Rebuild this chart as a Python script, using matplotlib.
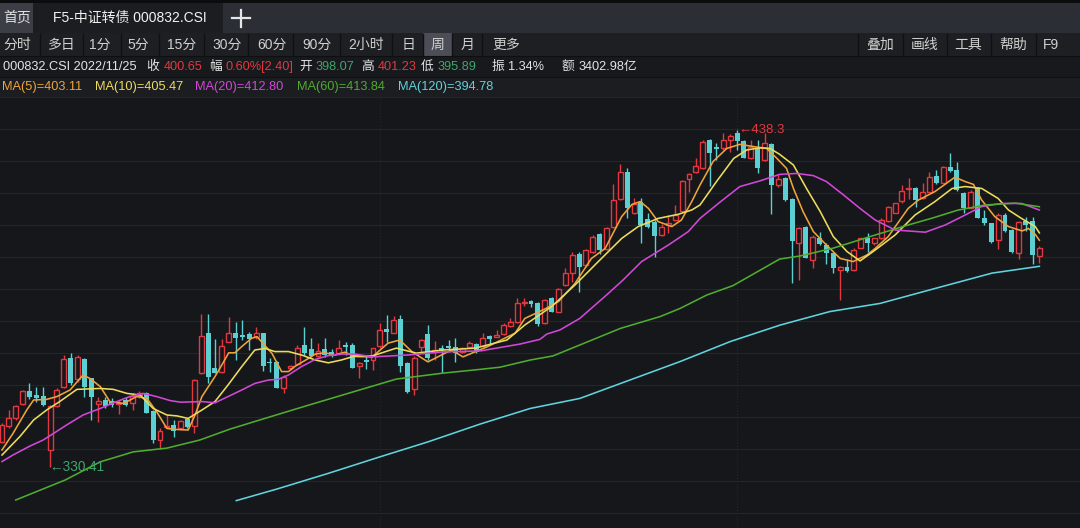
import numpy as np
import matplotlib
matplotlib.use("Agg")
import matplotlib.pyplot as plt
from matplotlib.patches import Rectangle

plt.rcParams['font.family'] = ['Liberation Sans', 'Noto Sans CJK SC', 'DejaVu Sans']

# weekly candles of 000832.CSI, oldest first
opens = [338.7, 343.7, 346.4, 350.7, 354.9, 353.6, 353.3, 336.0, 350.1, 356.3,
         365.3, 358.6, 365.0, 358.9, 350.7, 352.0, 351.8, 350.7, 352.0, 351.1,
         353.6, 354.1, 348.6, 339.2, 343.3, 344.0, 342.9, 345.8, 343.7, 360.5,
         373.3, 362.1, 361.1, 370.7, 373.5, 372.8, 373.0, 372.3, 373.3, 364.3,
         364.3, 356.0, 362.1, 363.4, 369.6, 368.3, 366.1, 368.2, 367.3, 366.9,
         369.6, 369.6, 362.9, 364.8, 364.8, 369.3, 374.7, 373.5, 377.8, 363.7,
         355.4, 369.1, 373.0, 367.5, 368.7, 369.3, 369.1, 367.5, 369.1, 369.9,
         369.3, 372.5, 372.3, 373.1, 375.7, 377.1, 383.1, 383.8, 382.9, 376.5,
         384.5, 380.3, 388.8, 392.8, 398.7, 395.2, 399.5, 405.0, 400.3, 407.5,
         416.3, 424.9, 411.7, 415.5, 409.9, 409.1, 404.8, 408.0, 409.6, 412.5,
         422.7, 424.9, 426.1, 435.2, 432.9, 432.5, 435.2, 437.3, 434.9, 429.3,
         432.5, 428.8, 433.8, 420.8, 423.1, 416.3, 402.4, 407.3, 396.8, 404.0,
         401.6, 398.9, 393.6, 394.7, 393.6, 400.7, 403.9, 402.1, 403.9, 409.3,
         412.0, 415.7, 419.5, 419.9, 416.7, 418.7, 423.8, 421.6, 426.7, 425.6,
         418.4, 413.5, 419.9, 410.3, 408.5, 403.2, 411.2, 406.4, 399.2, 409.3,
         409.3, 398.07]
highs = [344.5, 348.8, 350.4, 355.2, 357.3, 356.3, 356.3, 350.5, 355.7, 366.4,
         366.9, 366.4, 365.4, 359.2, 353.1, 352.9, 352.5, 352.0, 352.9, 354.1,
         355.0, 354.7, 348.8, 342.9, 347.2, 345.6, 345.6, 346.1, 358.6, 379.5,
         379.5, 371.4, 371.4, 378.5, 377.1, 377.6, 373.9, 375.5, 373.5, 365.3,
         364.5, 360.0, 363.2, 369.6, 375.3, 371.7, 370.1, 371.7, 368.2, 371.2,
         370.7, 370.1, 364.3, 366.4, 368.7, 376.7, 379.2, 378.9, 379.2, 364.3,
         366.1, 371.4, 376.0, 370.9, 369.6, 371.2, 371.7, 369.1, 371.0, 370.1,
         373.5, 372.8, 374.4, 376.5, 378.1, 384.5, 384.5, 384.0, 383.5, 384.3,
         385.1, 387.7, 394.3, 399.5, 399.5, 400.3, 404.8, 405.3, 407.5, 421.0,
         427.4, 426.4, 416.7, 416.5, 411.7, 409.6, 408.2, 411.2, 414.4, 422.4,
         424.5, 429.3, 435.2, 435.5, 434.1, 437.3, 437.0, 438.3, 435.1, 435.2,
         435.2, 437.3, 434.1, 424.0, 423.5, 416.5, 407.4, 407.8, 404.8, 405.6,
         402.1, 399.2, 395.0, 397.1, 400.5, 404.0, 405.3, 403.9, 410.1, 414.2,
         415.2, 420.8, 422.9, 420.3, 421.6, 424.9, 425.6, 427.0, 430.9, 428.3,
         418.7, 419.2, 420.3, 412.8, 408.8, 411.7, 411.7, 406.7, 409.3, 410.7,
         410.7, 401.23]
lows = [338.1, 342.9, 345.6, 350.4, 352.2, 351.5, 350.1, 330.41, 349.9, 356.0,
        356.8, 357.9, 353.1, 345.6, 345.1, 349.3, 349.9, 347.5, 350.1, 348.8,
        352.8, 347.7, 338.1, 336.2, 342.9, 340.3, 342.4, 342.9, 341.5, 360.3,
        357.5, 360.5, 360.7, 370.5, 364.8, 371.2, 368.0, 371.4, 361.4, 361.1,
        355.7, 354.3, 361.6, 363.2, 366.4, 365.9, 365.7, 365.9, 365.9, 366.4,
        366.4, 362.1, 359.2, 361.8, 361.6, 368.5, 370.7, 373.3, 361.1, 354.3,
        353.6, 367.5, 364.8, 364.8, 360.5, 367.5, 364.3, 366.9, 368.5, 366.9,
        369.1, 369.6, 372.1, 372.8, 375.5, 376.7, 382.1, 381.9, 375.8, 376.2,
        380.1, 380.1, 388.6, 389.9, 386.7, 394.7, 398.9, 398.6, 400.0, 407.1,
        416.0, 410.1, 411.4, 402.4, 407.1, 397.9, 404.6, 405.3, 409.3, 412.3,
        418.7, 424.5, 425.9, 420.6, 428.8, 432.0, 431.5, 432.0, 429.3, 429.1,
        424.5, 428.5, 411.4, 420.3, 415.7, 389.3, 390.4, 397.3, 394.3, 401.6,
        395.4, 392.8, 384.0, 393.1, 393.3, 400.5, 399.5, 401.6, 403.5, 409.1,
        411.7, 415.2, 416.3, 413.9, 416.3, 418.5, 421.0, 421.3, 425.1, 418.9,
        411.7, 413.3, 410.1, 408.0, 402.4, 400.3, 405.6, 399.2, 397.1, 406.1,
        395.4, 395.89]
closes = [344.0, 346.4, 350.1, 354.9, 353.1, 352.8, 350.4, 350.1, 355.2, 365.0,
          357.5, 365.9, 356.3, 353.1, 351.7, 350.1, 350.4, 351.2, 350.4, 353.3,
          354.1, 347.9, 339.2, 342.2, 343.6, 342.2, 345.4, 343.5, 358.4, 372.5,
          359.5, 360.7, 369.4, 373.3, 371.7, 372.3, 371.4, 373.3, 362.9, 363.7,
          355.9, 359.5, 363.0, 368.7, 366.9, 366.1, 367.8, 366.4, 366.4, 368.5,
          369.1, 362.4, 363.7, 364.3, 368.5, 374.4, 373.9, 377.6, 362.9, 354.7,
          365.3, 371.2, 365.5, 368.1, 368.0, 368.5, 366.9, 368.5, 370.1, 367.5,
          371.7, 371.4, 372.8, 376.0, 377.1, 383.1, 383.5, 382.6, 376.2, 384.0,
          380.3, 387.4, 392.8, 398.4, 394.7, 400.0, 404.3, 400.0, 407.1, 416.0,
          424.9, 413.5, 414.6, 408.0, 407.5, 404.6, 407.5, 408.5, 411.2, 422.1,
          424.2, 427.0, 434.5, 431.2, 432.2, 435.2, 436.6, 434.9, 429.5, 433.1,
          426.1, 434.1, 420.8, 422.7, 416.0, 402.9, 406.9, 397.5, 404.3, 401.8,
          398.9, 394.1, 394.7, 393.3, 400.0, 403.7, 402.4, 403.7, 409.6, 413.9,
          414.9, 418.9, 420.0, 416.0, 418.7, 423.3, 421.6, 426.7, 425.3, 419.2,
          413.5, 418.7, 410.3, 408.8, 402.7, 411.2, 406.1, 399.5, 409.1, 408.0,
          398.25, 400.65]

# moving averages, sampled along the curves (week index, value)
ma5_idx = [0, 1.6, 3.6, 4.6, 6.5, 8, 9.9, 11.8, 12.8, 14.3, 15.7, 17.7, 19.6, 21.1, 22.5,
           24, 25.2, 27.1, 28.1, 29.1, 31, 32, 33, 33.9, 34.9, 36.3, 37.1, 38, 39.3, 40.7,
           41.7, 42.6, 44.6, 45.6, 47, 48.5, 49.9, 51.4, 53.9, 56.2, 57.9, 59.7, 62, 65.4,
           67.1, 70.6, 74.7, 76.1, 79, 81, 83.4, 85.8, 87.8, 90.2, 91.7, 92.9, 94.1, 95.5,
           97.5, 98.9, 100.4, 101.6, 103.5, 105.5, 107.4, 109.4, 111.3, 112.8, 114.2, 115.2,
           116.6, 118.1, 120, 122, 123.9, 125.9, 127.1, 129, 131.9, 133.4, 135.8, 138.7,
           140.2, 141.4, 142.6, 144.5, 146.5, 148.5, 149.4, 150.4, 151]
ma5_val = [336.0, 341.3, 348.8, 352.0, 352.2, 353.1, 355.2, 360.0, 358.9, 356.3, 351.5,
           350.9, 353.1, 352.5, 348.3, 342.9, 342.6, 342.4, 347.2, 353.1, 359.5, 363.2,
           367.1, 367.1, 369.1, 371.7, 372.3, 370.1, 366.9, 361.1, 361.1, 362.7, 365.3,
           366.7, 367.1, 366.4, 367.3, 365.9, 365.8, 370.2, 371.2, 367.4, 364.2, 368.0,
           365.8, 369.0, 373.4, 378.1, 381.1, 383.5, 389.3, 397.3, 400.5, 410.7, 414.6,
           415.5, 413.3, 409.1, 407.5, 409.6, 415.5, 420.8, 428.3, 432.5, 433.8, 433.1,
           432.5, 429.3, 426.1, 419.7, 412.3, 405.9, 401.6, 397.3, 396.3, 398.4, 400.5,
           404.3, 413.3, 416.0, 418.7, 423.3, 421.9, 421.0, 416.0, 410.7, 407.5, 406.1,
           406.9, 405.0, 403.11]
ma10_idx = [0, 2.6, 4.6, 6.5, 8.4, 10.9, 14.3, 16.2, 18.2, 20.1, 22, 24, 25.5, 27.1, 29.1,
            31, 32.9, 34.9, 36.8, 38.3, 39.7, 41.7, 43.6, 45.6, 47.5, 49.4, 51.4, 53.9,
            57.4, 60.3, 64.2, 68.9, 73.5, 76.1, 80, 83.4, 86.8, 90.2, 92.6, 95.5, 98.4,
            100.4, 101.6, 104, 106.5, 108.4, 110.3, 111.8, 113.2, 115.2, 117.1, 119.1, 121,
            123, 124.9, 126.8, 130, 132.9, 135.8, 138.3, 140.2, 142.6, 145, 146.5, 148.4,
            150.4, 151]
ma10_val = [334.4, 340.3, 345.6, 348.8, 351.5, 355.4, 355.7, 355.4, 354.1, 353.6, 349.3,
            347.2, 346.9, 346.1, 348.8, 351.5, 356.8, 362.7, 368.0, 368.5, 367.5, 367.5,
            366.4, 364.8, 363.9, 364.8, 366.1, 366.1, 368.6, 367.0, 368.0, 368.6, 371.2,
            376.0, 381.9, 388.8, 396.3, 403.7, 407.5, 410.1, 411.4, 412.8, 414.4, 421.9,
            429.3, 432.0, 432.7, 432.5, 430.6, 427.2, 419.7, 412.3, 404.3, 399.5, 396.5,
            399.5, 404.8, 411.2, 415.5, 419.7, 420.3, 419.7, 416.5, 412.8, 410.1, 407.5,
            405.47]
ma20_idx = [0, 1.6, 4.1, 6, 7.5, 9.4, 11.8, 14.3, 16.7, 18.6, 20.6, 22.5, 24.5, 26, 29.1,
            31, 32.9, 34.9, 36.8, 38.8, 40.2, 41.7, 43.6, 45.6, 47.5, 49.4, 51.4, 53.9,
            59.1, 64.2, 69.6, 75.4, 78.3, 79.3, 81.2, 84.1, 88, 90.4, 93.1, 97, 99.9, 101.6,
            104.5, 107.4, 110.3, 113.2, 115.7, 118.1, 120, 122.5, 124.9, 127.1, 130, 134.4,
            137.3, 140.2, 142.6, 145.5, 148.4, 151]
ma20_val = [332.3, 334.4, 337.3, 339.2, 341.3, 344.0, 347.2, 349.3, 351.5, 353.1, 354.1,
            353.1, 351.8, 351.3, 351.5, 351.1, 353.1, 355.2, 357.3, 358.4, 358.6, 360.0,
            362.7, 365.0, 366.2, 366.7, 366.7, 365.8, 366.4, 367.4, 367.7, 369.9, 371.4,
            373.1, 374.4, 378.1, 385.6, 390.4, 396.3, 401.6, 405.9, 410.1, 415.3, 420.3,
            422.1, 424.2, 424.5, 423.8, 421.9, 417.6, 413.3, 409.6, 406.4, 405.7, 408.0,
            411.2, 413.9, 414.9, 414.9, 412.80]
ma60_idx = [2, 9.2, 14.3, 19.1, 24, 28.8, 33.2, 39, 44.7, 50.5, 57.4, 64.2, 69.6, 72.5,
            76.9, 80.2, 84.1, 90, 95.8, 98.7, 102.6, 106.4, 113.2, 116.2, 121, 127.1,
            131.9, 135.4, 139.2, 143.1, 147.5, 151]
ma60_val = [320.0, 326.4, 332.2, 335.4, 336.6, 339.2, 342.7, 346.6, 350.4, 354.2, 358.7,
            360.6, 361.8, 362.5, 364.8, 366.1, 369.6, 374.9, 378.7, 381.3, 385.6, 388.6,
            397.1, 398.1, 400.6, 404.8, 408.0, 410.2, 412.8, 414.4, 415.0, 413.84]
ma120_idx = [34.1, 40, 47.6, 55, 62, 69.6, 76.9, 84.1, 91.4, 98.7, 106, 113.3, 120.5,
             127.8, 136, 144.1, 151]
ma120_val = [319.8, 323.5, 328.6, 333.8, 338.6, 344.3, 349.3, 352.5, 358.4, 364.3, 370.7,
             376.0, 380.3, 382.9, 387.8, 392.6, 394.78]

code = "000832.CSI"
date = "2022/11/25"
amount = "3402.98亿"

BG = '#15171b'
UP = '#e3383f'
DOWN = '#5ccfd2'
GREEN_TXT = '#3fa56a'
TXT = '#e4e4e4'
MA_COLORS = ['#eea43a', '#ecdc5c', '#d247d8', '#4fac2f', '#5fd3de']

W, H = 1080, 528
fig = plt.figure(figsize=(W / 100, H / 100), dpi=100)
fig.patch.set_facecolor(BG)

# ---- toolbar / header, drawn in pixel coordinates ----
hdr = fig.add_axes([0, 0, 1, 1])
hdr.set_xlim(0, W)
hdr.set_ylim(H, 0)
hdr.axis('off')


def box(x0, y0, x1, y1, c):
    hdr.add_patch(Rectangle((x0, y0), x1 - x0, y1 - y0, facecolor=c, lw=0))


box(0, 0, W, 3, '#0b0c0e')
box(0, 3, W, 33, '#2b2e34')
box(0, 3, 33, 33, '#3b3e45')
box(33, 3, 223, 33, '#1b1d21')
box(0, 33, W, 56, '#1d1f23')
box(423, 33, 452, 56, '#4b4e56')
box(0, 56, W, 77, '#18191d')
box(0, 77, W, 97, '#1b1d21')
hdr.plot([0, W], [56, 56], color='#0e0f11', lw=0.8)
hdr.plot([0, W], [77, 77], color='#101114', lw=0.8)

hdr.text(3, 18, "首页", color=TXT, fontsize=10, va='center')
hdr.text(53, 18, "F5-中证转债 " + code, color='#f2f2f2', fontsize=10, va='center')
hdr.plot([232, 250], [18, 18], color='#e6e6e6', lw=1.6)
hdr.plot([241, 241], [9.5, 26.5], color='#e6e6e6', lw=1.6)

periods = ["分时", "多日", "1分", "5分", "15分", "30分", "60分", "90分", "2小时", "日", "周", "月", "更多"]
period_x = [17, 62, 100, 138, 182, 227, 272, 317, 366, 408, 437, 468, 506]
for lab, px in zip(periods, period_x):
    hdr.text(px, 45, lab, color='#d0d0d0', fontsize=10, ha='center', va='center')
for sx in [40, 83, 121, 159, 204, 248, 293, 340, 392, 423, 452, 482, 858, 903, 947, 991, 1036]:
    hdr.plot([sx, sx], [34, 55], color='#0f1012', lw=1.0)
tools = ["叠加", "画线", "工具", "帮助", "F9"]
tool_x = [880, 925, 968, 1013, 1051]
for lab, px in zip(tools, tool_x):
    hdr.text(px, 45, lab, color='#d0d0d0', fontsize=10, ha='center', va='center')

# quote line for the last week
last_c, prev_c = closes[-1], closes[-2]
chg = last_c - prev_c
quote = [
    (3, f"{code} {date}", TXT),
    (146, "收", TXT), (164, f"{last_c:.2f}", UP),
    (209, "幅", TXT), (225, f"{chg / prev_c * 100:.2f}%[{chg:.2f}]", UP),
    (299, "开", TXT), (316, f"{opens[-1]:.2f}", GREEN_TXT),
    (361, "高", TXT), (378, f"{highs[-1]:.2f}", UP),
    (421, "低", TXT), (438, f"{lows[-1]:.2f}", GREEN_TXT),
    (492, "振", TXT), (508, f"{(highs[-1] - lows[-1]) / prev_c * 100:.2f}%", TXT),
    (562, "额", TXT), (579, amount, TXT),
]
for qx, s, c in quote:
    hdr.text(qx, 67, s, color=c, fontsize=9.2, va='center')

ma_names = ["MA(5)", "MA(10)", "MA(20)", "MA(60)", "MA(120)"]
ma_last = [ma5_val[-1], ma10_val[-1], ma20_val[-1], ma60_val[-1], ma120_val[-1]]
for name, v, c, lx in zip(ma_names, ma_last, MA_COLORS, [2, 95, 195, 297, 398]):
    hdr.text(lx, 87, f"{name}={v:.2f}", color=c, fontsize=9.2, va='center')

# ---- candlestick panel ----
top = 97
ax = fig.add_axes([0, 0, 1, (H - top) / H])
ax.axis('off')
step = 6.87
ax.set_xlim(-2 / step, (W - 2) / step)
ax.set_ylim(480 - 0.32 * H, 480 - 0.32 * top)

for g in np.arange(315.7, 449, 10.24):
    ax.axhline(g, color='#23262b', lw=0.8, zorder=0)
for yx in [55, 107]:
    ax.axvline(yx, color='#262930', lw=0.7, ls=(0, (1, 2)), zorder=0)

o = np.array(opens)
hi = np.array(highs)
lo = np.array(lows)
c = np.array(closes)
x = np.arange(len(o))
up = c >= o
dn = ~up
bw = 0.72

body_top = np.maximum(o, c)
body_bot = np.minimum(o, c)
ax.vlines(x[up], body_top[up], hi[up], color=UP, lw=1.0, zorder=2)
ax.vlines(x[up], lo[up], body_bot[up], color=UP, lw=1.0, zorder=2)
ax.vlines(x[dn], lo[dn], hi[dn], color=DOWN, lw=1.0, zorder=2)
ax.bar(x[up], np.maximum(c[up] - o[up], 0.3), bottom=o[up], width=bw,
       facecolor=BG, edgecolor=UP, linewidth=1.0, zorder=3)
ax.bar(x[dn], np.maximum(o[dn] - c[dn], 0.3), bottom=c[dn], width=bw,
       color=DOWN, linewidth=0, zorder=3)

for xs, ys, col in zip([ma5_idx, ma10_idx, ma20_idx, ma60_idx, ma120_idx],
                       [ma5_val, ma10_val, ma20_val, ma60_val, ma120_val], MA_COLORS):
    ax.plot(xs, ys, color=col, lw=1.15, zorder=4)

# extreme labels
i_hi = int(np.argmax(hi))
i_lo = int(np.argmin(lo))
ax.text(i_hi + 0.1, hi[i_hi], f"←{hi[i_hi]:.1f}", color=UP, fontsize=9.5,
        ha='left', va='center', zorder=5)
ax.text(i_lo - 0.1, lo[i_lo], f"←{lo[i_lo]:.2f}", color=GREEN_TXT, fontsize=9.8,
        ha='left', va='center', zorder=5)

fig.savefig("out.png", dpi=100, facecolor=BG)
